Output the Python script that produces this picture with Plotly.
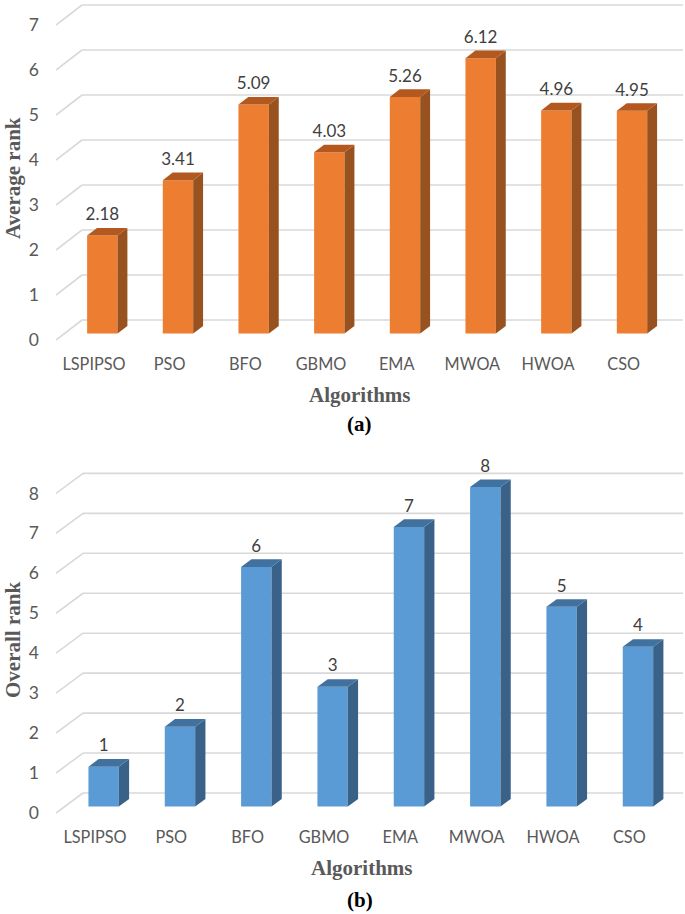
import plotly.graph_objects as go

W, H = 685, 914
categories = ["LSPIPSO", "PSO", "BFO", "GBMO", "EMA", "MWOA", "HWOA", "CSO"]
average_rank = [2.18, 3.41, 5.09, 4.03, 5.26, 6.12, 4.96, 4.95]
overall_rank = [1, 2, 6, 3, 7, 8, 5, 4]
average_ticks = [0, 1, 2, 3, 4, 5, 6, 7]
overall_ticks = [0, 1, 2, 3, 4, 5, 6, 7, 8]

GRID = "#D9D9D9"
TEXT = "#595959"
SANS = "Lato"
SERIF = "Liberation Serif"

fig = go.Figure()


def panel(n, values, ticks, fmt, top_px, bottom_px, zero_px, unit_px, x0_px, cat_px,
          left_px, depth_x, depth_y, front, side, cap):
    ax = "" if n == 1 else str(n)
    xr = "x" + ax
    yr = "y" + ax
    xu = lambda px: px / cat_px
    yu = lambda px: px / unit_px
    x_range = [(left_px - x0_px) / cat_px, (683 - x0_px) / cat_px]
    y_range = [(zero_px - bottom_px) / unit_px, (zero_px - top_px) / unit_px]

    # oblique depth positions of the bar's front and back planes
    df, db = 0.32, 0.70
    half = xu(15.2)
    centers = [i + xu(depth_x * df) for i in range(len(values))]
    base_f = yu(depth_y * df)
    base_b = yu(depth_y * db)
    sx = xu(depth_x * (db - df))

    # wall gridlines + floor diagonals, below the bars
    for t in ticks:
        fig.add_shape(type="line", xref=xr, yref=yr, layer="below",
                      x0=x_range[0] + xu(depth_x), x1=x_range[1],
                      y0=t + yu(depth_y), y1=t + yu(depth_y),
                      line=dict(color=GRID, width=1.6))
        fig.add_shape(type="line", xref=xr, yref=yr, layer="below",
                      x0=x_range[0], x1=x_range[0] + xu(depth_x),
                      y0=t, y1=t + yu(depth_y),
                      line=dict(color=GRID, width=1.6))

    fig.add_trace(go.Bar(x=centers, y=values, base=base_f, width=2 * half,
                         marker=dict(color=front, line=dict(width=0)),
                         xaxis=xr, yaxis=yr, showlegend=False))

    for c, v in zip(centers, values):
        r = c + half
        l = c - half
        # side face
        fig.add_trace(go.Scatter(
            x=[r, r + sx, r + sx, r, r],
            y=[base_f, base_b, v + base_b, v + base_f, base_f],
            mode="lines", fill="toself", fillcolor=side, line=dict(width=0),
            xaxis=xr, yaxis=yr, showlegend=False, hoverinfo="skip"))
        # top face
        fig.add_trace(go.Scatter(
            x=[l, l + sx, r + sx, r, l],
            y=[v + base_f, v + base_b, v + base_b, v + base_f, v + base_f],
            mode="lines", fill="toself", fillcolor=cap, line=dict(width=0),
            xaxis=xr, yaxis=yr, showlegend=False, hoverinfo="skip"))

    fig.add_trace(go.Scatter(
        x=centers, y=[v + base_b + yu(12) for v in values],
        text=[fmt.format(v) for v in values], mode="text", textposition="middle center",
        textfont=dict(family=SANS, size=17, color="#404040"), cliponaxis=False,
        xaxis=xr, yaxis=yr, showlegend=False, hoverinfo="skip"))

    fig.update_layout(**{
        "xaxis" + ax: dict(
            domain=[left_px / W, 683 / W], range=x_range, anchor=yr, automargin=False,
            tickmode="array", tickvals=list(range(len(categories))), ticktext=categories,
            showgrid=False, zeroline=False, showline=False, ticks="",
            tickfont=dict(family=SANS, size=16.3, color=TEXT), ticklabelstandoff=8),
        "yaxis" + ax: dict(
            domain=[1 - bottom_px / H, 1 - top_px / H], range=y_range, anchor=xr, automargin=False,
            tickmode="array", tickvals=ticks, ticktext=[str(t) for t in ticks],
            showgrid=False, zeroline=False, showline=False, ticks="",
            tickfont=dict(family=SANS, size=17.5, color=TEXT), ticklabelstandoff=16),
    })


panel(1, average_rank, average_ticks, "{:.2f}", 0, 345, 340, 45.0, 94, 75.67, 56, 26, 20,
      "#ED7D31", "#97521F", "#B3591F")
panel(2, overall_rank, overall_ticks, "{:d}", 450, 818, 813, 39.95, 95, 76.33, 56, 27, 20,
      "#5B9BD5", "#3A6288", "#41719F")


def label(text, x, y, size, color, angle=0):
    fig.add_annotation(text="<b>%s</b>" % text, x=x / W, y=1 - y / H, xref="paper", yref="paper",
                       showarrow=False, textangle=angle, xanchor="center", yanchor="middle",
                       font=dict(family=SERIF, size=size, color=color))


label("Algorithms", 360, 395, 21, TEXT)
label("(a)", 359, 424, 21, "#000000")
label("Average rank", 13, 178, 21, TEXT, -90)
label("Algorithms", 362, 868, 21, TEXT)
label("(b)", 360, 900, 21, "#000000")
label("Overall rank", 13, 640, 21, TEXT, -90)

fig.update_layout(width=W, height=H, margin=dict(l=0, r=0, t=0, b=0),
                  paper_bgcolor="white", plot_bgcolor="white", barmode="overlay",
                  showlegend=False)

fig.write_html("out.html", config={"displayModeBar": False},
               post_script="document.body.style.margin='0';document.documentElement.style.overflow='hidden';")
